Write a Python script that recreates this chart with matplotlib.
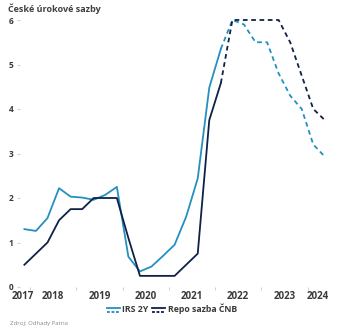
import matplotlib
matplotlib.use("Agg")
import matplotlib.pyplot as plt
from matplotlib.lines import Line2D
from matplotlib.legend_handler import HandlerBase

plt.rcParams["font.family"] = ["Open Sans", "DejaVu Sans"]

# čtvrtletní data, skutečnost do 2022Q1, pak odhad
quarters_hist = ["2017Q4", "2018Q1", "2018Q2", "2018Q3", "2018Q4", "2019Q1", "2019Q2",
                 "2019Q3", "2019Q4", "2020Q1", "2020Q2", "2020Q3", "2020Q4", "2021Q1",
                 "2021Q2", "2021Q3", "2021Q4", "2022Q1"]
irs_hist = [1.30, 1.26, 1.55, 2.22, 2.03, 2.01, 1.96, 2.07, 2.25, 0.68, 0.35, 0.46,
            0.70, 0.95, 1.58, 2.44, 4.48, 5.35]
repo_hist = [0.50, 0.75, 1.00, 1.50, 1.75, 1.75, 2.00, 2.00, 2.00, 1.10, 0.25, 0.25,
             0.25, 0.25, 0.50, 0.75, 3.75, 4.58]

quarters_fc = ["2022Q1", "2022Q2", "2022Q3", "2022Q4", "2023Q1", "2023Q2", "2023Q3",
               "2023Q4", "2024Q1", "2024Q2"]
irs_fc = [5.35, 6.00, 5.90, 5.50, 5.50, 4.80, 4.30, 4.00, 3.20, 2.93]
repo_fc = [4.58, 6.00, 6.00, 6.00, 6.00, 6.00, 5.50, 4.75, 4.00, 3.75]

year_labels = ["2017", "2018", "2019", "2020", "2021", "2022", "2023", "2024"]
year_label_pos = [2017.83, 2018.5, 2019.5, 2020.5, 2021.5, 2022.5, 2023.5, 2024.23]
year_bounds = [2018, 2019, 2020, 2021, 2022, 2023, 2024]


def qpos(q):
    # střed čtvrtletí jako desetinný rok
    y, k = q.split("Q")
    return int(y) + (int(k) - 0.5) / 4


C_IRS = "#2490c0"
C_REPO = "#0f2147"
LW = 1.3
DASH = (2.6, 2.0)


class TwoLineHandler(HandlerBase):
    # značka v legendě: plná čára nad čárkovanou
    def create_artists(self, legend, orig, xd, yd, w, h, fs, trans):
        c = orig.get_color()
        a = Line2D([xd, xd + w], [yd + h * 0.85] * 2, color=c, lw=LW, transform=trans)
        b = Line2D([xd, xd + w], [yd + h * 0.15] * 2, color=c, lw=LW,
                   dashes=(1.6, 0.9), transform=trans)
        return [a, b]


fig = plt.figure(figsize=(3.4, 3.34), dpi=100)
ax = fig.add_axes([20 / 340, 1 - 287 / 334, 312 / 340, 267 / 334])

xh = [qpos(q) for q in quarters_hist]
xf = [qpos(q) for q in quarters_fc]
l1, = ax.plot(xh, irs_hist, color=C_IRS, lw=LW, clip_on=False, label="IRS 2Y")
l2, = ax.plot(xh, repo_hist, color=C_REPO, lw=LW, clip_on=False, label="Repo sazba ČNB")
ax.plot(xf, irs_fc, color=C_IRS, lw=LW, dashes=DASH, clip_on=False)
ax.plot(xf, repo_fc, color=C_REPO, lw=LW, dashes=DASH, clip_on=False)

ax.set_xlim(2017.78, 2024.53)
ax.set_ylim(0, 6)
for s in ax.spines.values():
    s.set_visible(False)

ax.set_yticks(range(0, 7))
ax.tick_params(axis="y", length=2.5, width=0.6, color="#c8c8c8", pad=2,
               labelsize=6, labelcolor="#3a3a3a")
for t in ax.get_yticklabels():
    t.set_fontweight("bold")

ax.set_xticks(year_bounds)
ax.set_xticklabels([])
ax.tick_params(axis="x", which="major", length=2.5, width=0.6, color="#c8c8c8")
ax.set_xticks(year_label_pos, minor=True)
ax.set_xticklabels(year_labels, minor=True, fontsize=7, fontweight="bold", color="#3a3a3a")
ax.tick_params(axis="x", which="minor", length=0, pad=3.2)

fig.text(8 / 340, 1 - 9 / 334, "České úrokové sazby", fontsize=6.5, fontweight="bold",
         color="#404040", va="center", ha="left")
fig.text(10 / 340, 1 - 324 / 334, "Zdroj: Odhady Patria", fontsize=4.3, color="#8a8a8a",
         va="center", ha="left")

fig.legend(handles=[l1, l2], loc="center", bbox_to_anchor=(172 / 340, 1 - 309 / 334),
           ncol=2, frameon=False, handler_map={Line2D: TwoLineHandler()},
           handlelength=1.5, handleheight=0.6, handletextpad=0.3, columnspacing=0.4,
           prop={"size": 6.3, "weight": "bold"}, labelcolor="#3a3a3a")

fig.savefig("out.png", dpi=100)
